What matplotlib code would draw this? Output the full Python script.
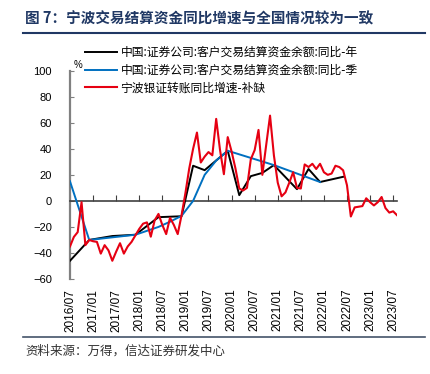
import numpy as np
import matplotlib
matplotlib.use('Agg')
import matplotlib.pyplot as plt

plt.rcParams['font.family'] = ['Liberation Sans', 'Noto Sans CJK SC', 'DejaVu Sans']
cjk = ['Noto Sans CJK SC', 'DejaVu Sans']

# month index 0 = 2016/07
tick_pos = list(range(0, 85, 6))
tick_labels = ['2016/07', '2017/01', '2017/07', '2018/01', '2018/07', '2019/01', '2019/07',
               '2020/01', '2020/07', '2021/01', '2021/07', '2022/01', '2022/07', '2023/01', '2023/07']

# 中国:证券公司:客户交易结算资金余额:同比-年
black_m = [0, 5, 11, 17, 23, 29, 32, 35, 41, 44, 47, 50, 53, 59, 62, 65, 71]
black_v = [-46, -30, -27, -26, -12.5, -11.8, 27, 23.6, 38.5, 4.4, 19, 21.5, 27.5, 9, 24.5, 14.5, 18.5]

# 中国:证券公司:客户交易结算资金余额:同比-季
blue_m = [0, 5, 11, 17, 20, 23, 26, 29, 32, 35, 38, 41, 53, 65]
blue_v = [15, -30, -28, -26, -23, -20, -16, -11.5, 0, 20, 31, 38.5, 27.5, 14.5]

# 宁波银证转账同比增速-补缺 (monthly, 2016/07 - 2023/08)
red_v = [-35, -27.7, -24, -1, -34, -30, -31, -31.5, -40.5, -34, -38, -46,
         -39, -32.5, -40.5, -35, -31.5, -26.5, -21.5, -17.5, -16.5, -27.5, -15, -10,
         -18.5, -25.5, -13, -18.5, -25.5, -11, 6, 25, 40, 52.5, 29.5, 34,
         37.5, 35, 63, 39, 20.5, 49, 38, 25, 9.5, 8, 10, 32,
         39, 54.5, 20, 43, 65.5, 35, 14, 3.5, 6.5, 14, 22, 10,
         9.5, 28, 26, 28.5, 24.5, 28.5, 22, 20, 21, 27, 26, 23.5,
         12, -12, -5, -4.5, -4, 2, -1, -3.5, -1, 3, -5.5, -9,
         -8, -11]
red_m = list(range(len(red_v)))

labels = ['中国:证券公司:客户交易结算资金余额:同比-年',
          '中国:证券公司:客户交易结算资金余额:同比-季',
          '宁波银证转账同比增速-补缺']

navy = '#203864'

fig = plt.figure(figsize=(4.3, 3.74), dpi=100)
ax = fig.add_axes([70 / 430, 1 - 279 / 374, 327 / 430, (279 - 70.7) / 374])

l1, = ax.plot(black_m, black_v, color='black', lw=1.4, zorder=3)
l2, = ax.plot(blue_m, blue_v, color='#0070C0', lw=1.4, zorder=3)
l3, = ax.plot(red_m, red_v, color='#E60012', lw=1.5, zorder=4)

ax.set_xlim(0, 85)
ax.set_ylim(-60, 100)
ax.set_yticks(range(-60, 101, 20))
ax.tick_params(axis='y', direction='in', length=3, color='#808080', pad=13, labelsize=8)

for s in ['top', 'right']:
    ax.spines[s].set_visible(False)
ax.spines['left'].set_color('#808080')
ax.spines['left'].set_linewidth(1.6)
ax.spines['bottom'].set_position(('data', 0))
ax.spines['bottom'].set_color('#404040')
ax.spines['bottom'].set_linewidth(1.2)
ax.set_xticks(tick_pos)
ax.tick_params(axis='x', direction='in', length=4, color='#404040', labelbottom=False)

sec = ax.secondary_xaxis(0.0)
sec.set_xticks(tick_pos, tick_labels, rotation=90)
sec.tick_params(length=0, pad=7, labelsize=8.5)
sec.spines['bottom'].set_visible(False)

fig.text(78 / 430, 1 - 65 / 374, '%', fontsize=7, ha='center', va='center')

fig.legend([l1, l2, l3], labels, loc='upper left', bbox_to_anchor=(85 / 430, 1 - 46 / 374),
           frameon=False, borderpad=0, borderaxespad=0, handlelength=2.7, handletextpad=0.3,
           labelspacing=0.4, prop={'family': cjk, 'size': 8.5})

fig.text(25 / 430, 1 - 18 / 374, '图 7：宁波交易结算资金同比增速与全国情况较为一致',
         family=cjk, fontsize=10.5, fontweight='bold', color=navy, ha='left', va='center')
fig.add_artist(plt.Line2D([23 / 430, 425 / 430], [1 - 33 / 374, 1 - 33 / 374], color=navy, lw=1.5))
fig.add_artist(plt.Line2D([23 / 430, 425 / 430], [1 - 337 / 374, 1 - 337 / 374], color='#44546A', lw=1.2))
fig.text(25 / 430, 1 - 351 / 374, '资料来源：万得，信达证券研发中心',
         family=cjk, fontsize=9, color='#333333', ha='left', va='center')

fig.savefig('out.png', dpi=100)
